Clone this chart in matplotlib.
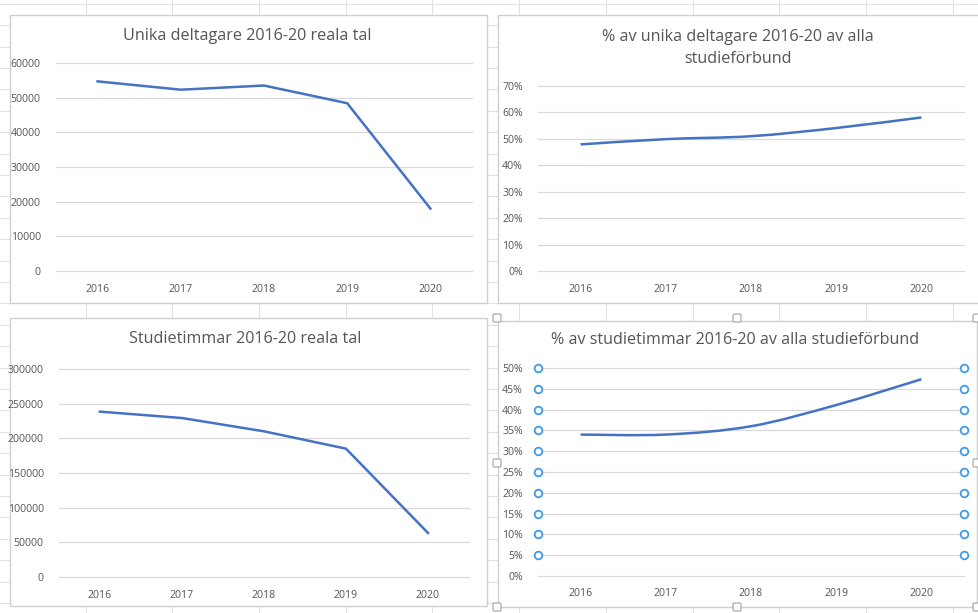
import numpy as np
import matplotlib
matplotlib.use("Agg")
import matplotlib.pyplot as plt
from matplotlib.path import Path
from matplotlib.patches import PathPatch, Rectangle, FancyBboxPatch
from matplotlib.ticker import PercentFormatter

# data
years = ["2016", "2017", "2018", "2019", "2020"]
unika_deltagare = [54700, 52300, 53500, 48400, 18000]
andel_deltagare = [0.479, 0.499, 0.510, 0.541, 0.581]
studietimmar = [238500, 229300, 210100, 185100, 63500]
andel_timmar = [0.340, 0.340, 0.360, 0.411, 0.473]

titles = ["Unika deltagare 2016-20 reala tal",
          "% av unika deltagare 2016-20 av alla\nstudieförbund",
          "Studietimmar 2016-20 reala tal",
          "% av studietimmar 2016-20 av alla studieförbund"]

W, H = 979, 613
LINE = "#4472C4"
GRID = "#D9D9D9"
TXT = "#555555"
plt.rcParams['font.family'] = ['Open Sans', 'DejaVu Sans']

fig = plt.figure(figsize=(W / 100, H / 100), dpi=100)
fig.patch.set_facecolor("white")

# spreadsheet background in pixel coordinates
bg = fig.add_axes([0, 0, 1, 1])
bg.set_xlim(0, W)
bg.set_ylim(H, 0)
bg.axis("off")
cols = [86, 172, 259, 346, 432, 519, 606, 693, 779, 866, 953]
for c in cols:
    bg.plot([c, c], [0, H], color="#E2E2E2", lw=0.8)
for k in range(0, 30):
    r = 3.8 + 21.4 * k
    bg.plot([0, W], [r, r], color="#E2E2E2", lw=0.8)

# chart boxes (x0, y0, x1, y1) in pixels
boxes = [(10, 15, 487, 303), (498, 15, 985, 303),
         (10, 318, 487, 606), (498, 321, 977, 607)]
for (x0, y0, x1, y1) in boxes:
    bg.add_patch(Rectangle((x0, y0), x1 - x0, y1 - y0, facecolor="white",
                           edgecolor="#CFCFCF", lw=1.0, zorder=3))

# selection handles on the last chart
for hx, hy in [(497, 318), (737, 318), (977, 318), (497, 463), (977, 463),
               (497, 607), (737, 607), (977, 607)]:
    bg.add_patch(FancyBboxPatch((hx - 4, hy - 4), 8, 8,
                                boxstyle="round,pad=0,rounding_size=1.5",
                                facecolor="white", edgecolor="#A0A0A0",
                                lw=0.8, zorder=4))

# title positions (center x, center y) in pixels
title_pos = [(247, 36), (738, 48), (245, 339), (735, 340)]
for t, (tx, ty) in zip(titles, title_pos):
    bg.text(tx, ty, t, ha="center", va="center", fontsize=11.6, color=TXT,
            linespacing=1.5, zorder=5)

# plot areas in pixels
areas = [(56, 63, 472, 271), (538, 86, 964, 271),
         (59, 369, 469, 577), (538, 368, 964, 576)]


def px_axes(x0, y0, x1, y1):
    return fig.add_axes([x0 / W, 1 - y1 / H, (x1 - x0) / W, (y1 - y0) / H])


def smooth_line(ax, xs, ys):
    # Excel style smoothed line: catmull-rom segments as cubic beziers
    pts = np.column_stack([xs, ys]).astype(float)
    ext = np.vstack([pts[0], pts, pts[-1]])
    verts = [pts[0]]
    codes = [Path.MOVETO]
    for i in range(len(pts) - 1):
        p0, p1, p2, p3 = ext[i], ext[i + 1], ext[i + 2], ext[i + 3]
        verts += [p1 + (p2 - p0) / 6, p2 - (p3 - p1) / 6, p2]
        codes += [Path.CURVE4] * 3
    ax.add_patch(PathPatch(Path(verts, codes), fill=False, edgecolor=LINE,
                           lw=1.8, capstyle="butt", zorder=3))


series = [unika_deltagare, andel_deltagare, studietimmar, andel_timmar]
ticks = [np.arange(0, 60001, 10000), np.arange(0, 0.701, 0.1),
         np.arange(0, 300001, 50000), np.arange(0, 0.501, 0.05)]
x = np.arange(len(years))

for i, (area, vals, tk) in enumerate(zip(areas, series, ticks)):
    ax = px_axes(*area)
    ax.set_facecolor("none")
    ax.set_xlim(-0.5, len(years) - 0.5)
    ax.set_ylim(tk[0], tk[-1])
    ax.set_yticks(tk)
    ax.set_xticks(x)
    ax.set_xticklabels(years)
    if i % 2 == 1:
        ax.yaxis.set_major_formatter(PercentFormatter(1.0, decimals=0))
    for s in ax.spines.values():
        s.set_visible(False)
    ax.grid(axis="y", color=GRID, lw=0.9)
    for gl in ax.get_ygridlines():
        gl.set_clip_on(False)
    ax.set_axisbelow(True)
    ax.tick_params(length=0, labelsize=7.6, labelcolor=TXT)
    ax.tick_params(axis="y", pad=11)
    ax.tick_params(axis="x", pad=9)
    if i % 2 == 1:
        smooth_line(ax, x, vals)
    else:
        ax.plot(x, vals, color=LINE, lw=1.8)
    if i == 3:
        for ex in (-0.5, len(years) - 0.5):
            ax.plot([ex] * (len(tk) - 1), tk[1:], "o", ms=5.5, mfc="white",
                    mec="#3C9BE8", mew=1.3, clip_on=False, zorder=5)

fig.savefig("out.png", dpi=100, facecolor="white")
